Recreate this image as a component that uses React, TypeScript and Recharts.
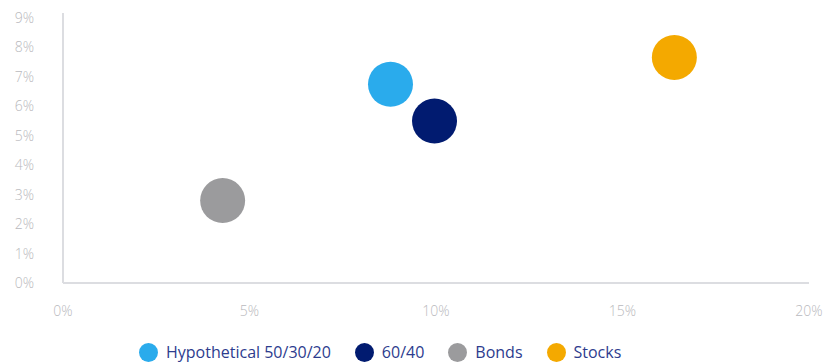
import React from "react";
import { ScatterChart, Scatter, XAxis, YAxis, Legend } from "recharts";

const seriesNames = ["Hypothetical 50/30/20", "60/40", "Bonds", "Stocks"];
const seriesColors = ["#2aabec", "#011b70", "#9b9b9d", "#f4a900"];
const riskValues = [8.78, 9.96, 4.28, 16.39];
const returnValues = [6.75, 5.5, 2.8, 7.66];
const xTicks = [0, 5, 10, 15, 20];
const yTicks = [0, 1, 2, 3, 4, 5, 6, 7, 8, 9];

const FONT = "'Open Sans', 'Noto Sans', sans-serif";

const Dot = (props: any) => {
  const { cx, cy, fill } = props;
  return <circle cx={cx} cy={cy} r={22.5} fill={fill} />;
};

const LegendContent = () => (
  <div
    style={{
      display: "flex",
      alignItems: "center",
      paddingLeft: 139,
      height: 22,
      fontFamily: FONT,
      fontSize: 16,
      color: "#2d3c8e",
    }}
  >
    {seriesNames.map((n, i) => (
      <div key={n} style={{ display: "flex", alignItems: "center", marginRight: 24 }}>
        <svg width={19} height={19} style={{ marginRight: 8 }}>
          <circle cx={9.5} cy={9.5} r={9.5} fill={seriesColors[i]} />
        </svg>
        <span style={{ whiteSpace: "nowrap" }}>{n}</span>
      </div>
    ))}
  </div>
);

export default function App() {
  const tickStyle = { fill: "#b9b9bd", fontSize: 14, fontFamily: FONT, fontWeight: 300 };
  return (
    <div style={{ position: "absolute", left: 0, top: 0 }}>
      <ScatterChart
        width={834}
        height={362}
        margin={{ top: 13, right: 25, bottom: 9, left: 0 }}
      >
        <XAxis
          type="number"
          dataKey="x"
          domain={[0, 20]}
          ticks={xTicks}
          tickFormatter={(v) => `${v}%`}
          axisLine={{ stroke: "#dcdde1", strokeWidth: 2 }}
          tickLine={false}
          tick={tickStyle}
          tickMargin={17}
          height={70}
          interval={0}
        />
        <YAxis
          type="number"
          dataKey="y"
          domain={[0, 9.17]}
          ticks={yTicks}
          tickFormatter={(v) => `${v}%`}
          axisLine={{ stroke: "#dcdde1", strokeWidth: 2 }}
          tickLine={false}
          tick={tickStyle}
          tickMargin={23}
          width={63}
          interval={0}
          allowDataOverflow
        />
        <Legend
          verticalAlign="middle"
          align="center"
          layout="horizontal"
          content={<LegendContent />}
          wrapperStyle={{ top: 341, left: 0, width: 834, height: 22 }}
        />
        {seriesNames.map((n, i) => (
          <Scatter
            key={n}
            name={n}
            data={[{ x: riskValues[i], y: returnValues[i] }]}
            fill={seriesColors[i]}
            shape={<Dot />}
            isAnimationActive={false}
          />
        ))}
      </ScatterChart>
    </div>
  );
}
